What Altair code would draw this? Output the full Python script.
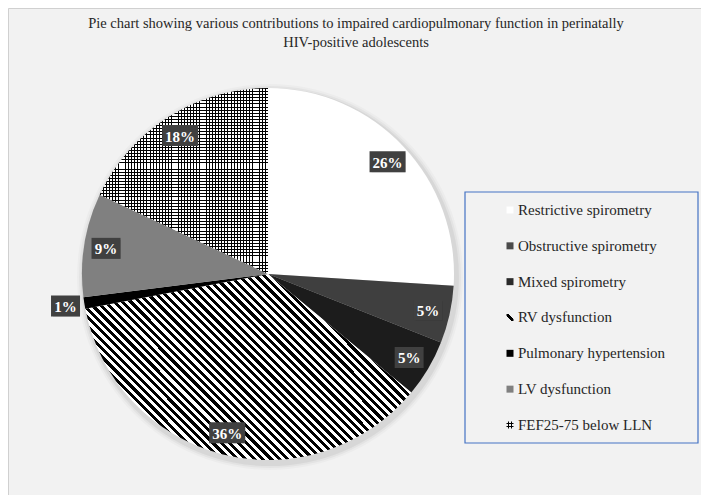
import altair as alt
import pandas as pd

# ---- data ----
categories = [
    "Restrictive spirometry",
    "Obstructive spirometry",
    "Mixed spirometry",
    "RV dysfunction",
    "Pulmonary hypertension",
    "LV dysfunction",
    "FEF25-75 below LLN",
]
values = [26, 5, 5, 36, 1, 9, 18]
title_lines = [
    "Pie chart showing various contributions to impaired cardiopulmonary function in perinatally",
    "HIV-positive adolescents",
]

df = pd.DataFrame({"category": categories, "value": values, "order": list(range(len(categories)))})
tdf = pd.DataFrame({"line": title_lines, "i": list(range(len(title_lines)))})

W, H = 693, 487
CX, CY, R = 260, 266, 186
FONT = "'Liberation Serif', 'Times New Roman', Times, serif"
CLEAR = "rgba(0,0,0,0)"


def stripes(n, c1, c2, frac, x1, y1, x2, y2):
    stops = []
    for i in range(n):
        a = round(i / n, 5)
        b = round((i + frac) / n, 5)
        c = round((i + 1) / n, 5)
        stops += [
            {"offset": a, "color": c1},
            {"offset": b, "color": c1},
            {"offset": b, "color": c2},
            {"offset": c, "color": c2},
        ]
    return {"gradient": "linear", "x1": x1, "y1": y1, "x2": x2, "y2": y2, "stops": stops}


def bands(spans, color, x1, y1, x2, y2):
    stops = [{"offset": 0, "color": CLEAR}]
    for a, b in spans:
        stops += [
            {"offset": a, "color": CLEAR},
            {"offset": a, "color": color},
            {"offset": b, "color": color},
            {"offset": b, "color": CLEAR},
        ]
    stops.append({"offset": 1, "color": CLEAR})
    return {"gradient": "linear", "x1": x1, "y1": y1, "x2": x2, "y2": y2, "stops": stops}


pie_fills = {
    "Restrictive spirometry": ["#ffffff"],
    "Obstructive spirometry": ["#3f3f3f"],
    "Mixed spirometry": ["#1c1c1c"],
    "RV dysfunction": ["#ffffff", stripes(61, "#000000", CLEAR, 0.5, 0, 1, 1.185, 0.3245)],
    "Pulmonary hypertension": ["#000000"],
    "LV dysfunction": ["#808080"],
    "FEF25-75 below LLN": [
        "#ffffff",
        stripes(54, "#000000", CLEAR, 0.3, 0, 0, 1, 0),
        stripes(60, "#000000", CLEAR, 0.3, 0, 0, 0, 1),
    ],
}

legend_fills = {
    "Restrictive spirometry": ["#ffffff"],
    "Obstructive spirometry": ["#4a4a4a"],
    "Mixed spirometry": ["#2a2a2a"],
    "RV dysfunction": [bands([(0.38, 0.62)], "#000000", 0, 1, 1, 0)],
    "Pulmonary hypertension": ["#000000"],
    "LV dysfunction": ["#808080"],
    "FEF25-75 below LLN": [
        bands([(0.2, 0.35), (0.65, 0.8)], "#000000", 0, 0, 1, 0),
        bands([(0.2, 0.35), (0.65, 0.8)], "#000000", 0, 0, 0, 1),
    ],
}

xs = alt.Scale(domain=[0, W], range=[0, W], nice=False, zero=False)
ys = alt.Scale(domain=[0, H], range=[0, H], nice=False, zero=False)
theta_scale = alt.Scale(domain=[0, 100])

base = (
    alt.Chart(df)
    .transform_window(cum="sum(value)", sort=[alt.SortField("order")], frame=[None, 0])
    .transform_calculate(start="datum.cum - datum.value")
)

layers = []

# soft shadow of the pie
for extra, op in [(7, 0.025), (5, 0.035), (3, 0.05)]:
    layers.append(
        base.transform_filter(alt.datum.order == 0)
        .mark_circle(size=(2 * (R + extra)) ** 2, color="#000000", opacity=op)
        .encode(x=alt.value(CX + 2), y=alt.value(CY + 3))
    )

# pie slices
for cat in categories:
    for f in pie_fills[cat]:
        layers.append(
            base.transform_filter(alt.datum.category == cat)
            .mark_arc(radius=R, fill=f)
            .encode(
                theta=alt.Theta("start:Q", scale=theta_scale, stack=False),
                theta2="cum:Q",
                x=alt.value(CX),
                y=alt.value(CY),
            )
        )

# data labels
lab = base.transform_calculate(
    mid="(datum.start + datum.value / 2) / 100 * 2 * PI",
    rr="datum.value < 3 ? 205 : 164",
    px=f"{CX} + datum.rr * sin(datum.mid)",
    py=f"{CY} - datum.rr * cos(datum.mid)",
    label="datum.value + '%'",
    hw="(7 * length(datum.label) + 15) / 2",
    bx1="datum.px - datum.hw",
    bx2="datum.px + datum.hw",
    by1="datum.py - 10.5",
    by2="datum.py + 10.5",
)
box_enc = dict(
    x=alt.X("bx1:Q", scale=xs, axis=None),
    x2="bx2:Q",
    y=alt.Y("by1:Q", scale=ys, axis=None),
    y2="by2:Q",
)
layers.append(lab.mark_rect(fill="#000000", opacity=0.25, xOffset=2, yOffset=2).encode(**box_enc))
layers.append(lab.mark_rect(fill="#404040").encode(**box_enc))
layers.append(
    lab.mark_text(font=FONT, fontSize=15, fontWeight="bold", color="#ffffff",
                  align="center", baseline="middle", dy=1)
    .encode(x=alt.X("px:Q", scale=xs, axis=None), y=alt.Y("py:Q", scale=ys, axis=None), text="label:N")
)

# legend box
layers.append(
    base.transform_filter(alt.datum.order == 0)
    .mark_rect(fill="transparent", stroke="#4472c4", strokeWidth=1.2)
    .encode(x=alt.value(457), x2=alt.value(690), y=alt.value(184), y2=alt.value(435))
)

leg = alt.Chart(df).transform_calculate(ly="202 + datum.order * 35.83")
for cat in categories:
    for f in legend_fills[cat]:
        layers.append(
            leg.transform_filter(alt.datum.category == cat)
            .mark_square(size=49, fill=f, opacity=1, strokeWidth=0)
            .encode(x=alt.value(502), y=alt.Y("ly:Q", scale=ys, axis=None))
        )
layers.append(
    leg.mark_text(font=FONT, fontSize=15, color="#262626", align="left", baseline="middle")
    .encode(x=alt.value(510), y=alt.Y("ly:Q", scale=ys, axis=None), text="category:N")
)

# title
layers.append(
    alt.Chart(tdf)
    .transform_calculate(ty="16 + datum.i * 19")
    .mark_text(font=FONT, fontSize=14.5, color="#262626", align="center", baseline="middle")
    .encode(x=alt.value(348), y=alt.Y("ty:Q", scale=ys, axis=None), text="line:N")
)

chart = (
    alt.layer(*layers)
    .properties(width=W, height=H, padding=0, autosize=alt.AutoSizeParams(type="none"))
    .configure(background="#f2f2f2")
    .configure_view(stroke="#d0d0d0", strokeWidth=1)
)

chart.save("out.html", embed_options={"renderer": "svg", "actions": False})
